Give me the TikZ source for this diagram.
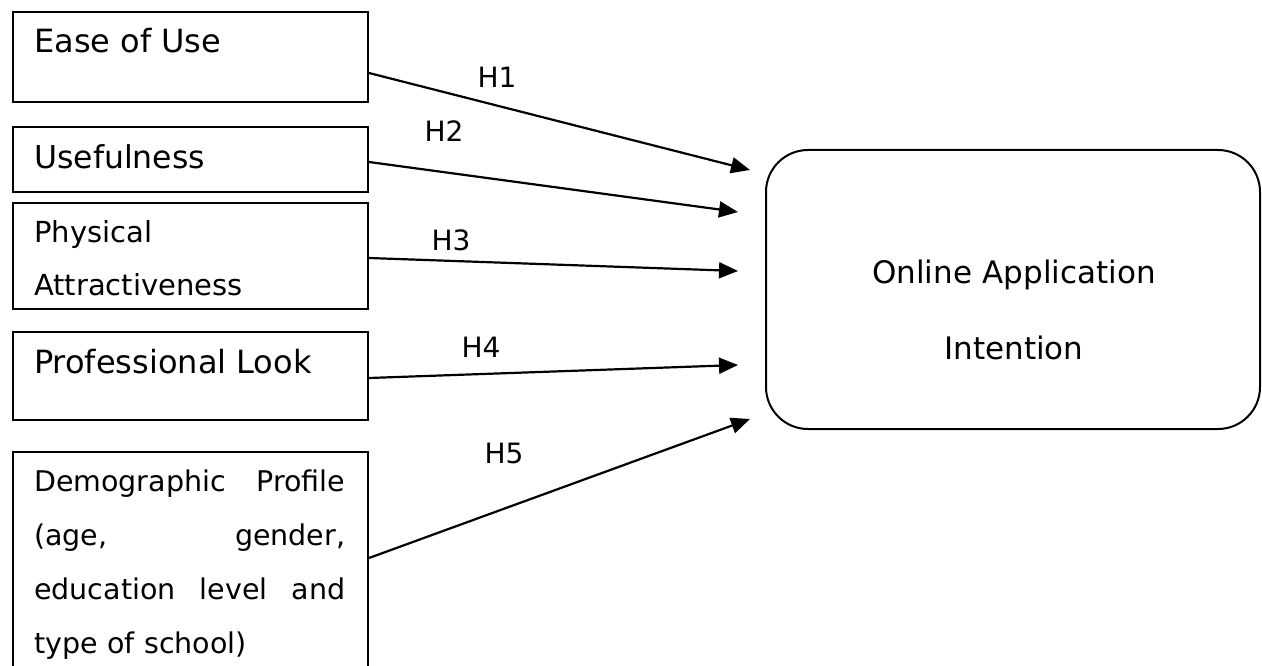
\documentclass[tikz,border=0pt]{standalone}
\usepackage{fontspec}
\setmainfont{DejaVu Sans}
\usetikzlibrary{arrows.meta}
\begin{document}
\begin{tikzpicture}[x=1pt,y=-1pt,
  box/.style={draw,line width=2pt,rectangle,inner sep=0pt,anchor=north west,minimum width=355pt},
  bigbox/.style={draw,line width=2pt,rectangle,rounded corners=42pt,inner sep=0pt,anchor=north west,minimum width=494pt,minimum height=279pt},
  lbl/.style={inner sep=0pt,anchor=base west},
  hlab/.style={inner sep=0pt,anchor=base,font=\fontsize{28}{34}\selectfont},
  arr/.style={line width=2.2pt,-{Triangle[length=19pt,width=16pt]}}]
\useasboundingbox (0,0) rectangle (1262,666);
\clip (0,0) rectangle (1262,666);
% boxes
\node[box,minimum height=90pt] (b1) at (12,11) {};
\node[box,minimum height=65pt] (b2) at (12,126) {};
\node[box,minimum height=106pt] (b3) at (12,202) {};
\node[box,minimum height=88pt] (b4) at (12,331) {};
\node[box,minimum height=249pt] (b5) at (12,451) {};
\node[bigbox] (oa) at (765,149) {};
% texts
\node[lbl,font=\fontsize{32}{38}\selectfont] (t1txt) at (34,53) {Ease of Use};
\node[lbl,font=\fontsize{31.5}{38}\selectfont] (t2txt) at (34,168) {Usefulness};
\node[lbl,font=\fontsize{29}{53}\selectfont,text width=320pt,align=left] (t3txt) at (34,243) {Physical\\Attractiveness};
\node[lbl,font=\fontsize{32}{38}\selectfont] (t4txt) at (34,373) {Professional Look};
\node[lbl,font=\fontsize{28.5}{54}\selectfont,text width=311pt,align=left] (t5txt) at (34,491)
  {\makebox[311pt][l]{Demographic\hfill Profile}\\\makebox[311pt][l]{(age,\hfill gender,}\\\makebox[311pt][l]{education\hfill level\hfill and}\\type of school)};
\node[inner sep=0pt,anchor=base,font=\fontsize{31}{77}\selectfont,text width=420pt,align=center] (oatxt) at (1014,283) {Online Application\\Intention};
% arrow ends
\coordinate (e1) at (750,170);
\coordinate (e2) at (738,212);
\coordinate (e3) at (738,271);
\coordinate (e4) at (738,365);
\coordinate (e5) at (750,419);
\draw[arr] ([yshift=-16pt]b1.east) -- (e1);
\draw[arr] ([yshift=-2.5pt]b2.east) -- (e2);
\draw[arr] ([yshift=-2pt]b3.east) -- (e3);
\draw[arr] ([yshift=-2pt]b4.east) -- (e4);
\draw[arr] ([yshift=18.5pt]b5.east) -- (e5);
% labels
\node[hlab] (h1) at (497,88) {H1};
\node[hlab] (h2) at (444,142) {H2};
\node[hlab] (h3) at (451,250) {H3};
\node[hlab] (h4) at (481,357) {H4};
\node[hlab] (h5) at (504,463) {H5};
\end{tikzpicture}
\end{document}
